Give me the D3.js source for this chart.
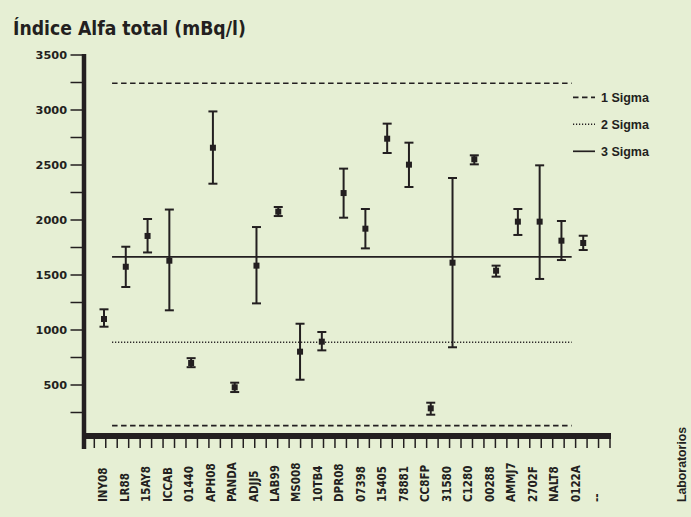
<!DOCTYPE html>
<html><head><meta charset="utf-8">
<script src="https://cdn.jsdelivr.net/npm/d3@7/dist/d3.min.js"></script>
<style>
html,body{margin:0;padding:0;background:#e6efd4;}
svg{display:block;}
</style></head>
<body><svg id="c" width="691" height="517"></svg>
<script>
const labs = ["INY08","LR88","15AY8","ICCAB","01440","APH08","PANDA","ADJJ5","LAB99","MS008","10TB4","DPR08","07398","15405","78881","CC8FP","31580","C1280","00288","AMMJ7","2702F","NALT8","0122A","--"];
const values = [1100,1575,1855,1630,700,2657,479,1585,2076,803,894,2245,1921,2739,2503,288,1612,2552,1539,1985,1985,1812,1791];
const lows   = [1030,1391,1705,1179,662,2330,436,1242,2036,548,815,2021,1742,2609,2300,230,843,2506,1485,1864,1464,1636,1727];
const highs  = [1188,1757,2009,2095,744,2987,521,1936,2118,1057,982,2467,2100,2876,2703,339,2382,2588,1585,2100,2497,1991,1857];
const yTicks = [500,1000,1500,2000,2500,3000,3500];
const yMinor = [250,750,1250,1750,2250,2750,3250];
const sigma1 = [130,3243];
const sigma2 = [888];
const sigma3 = [1664];
const lineSpan = [0.37,21.47];
const legendItems = ["1 Sigma","2 Sigma","3 Sigma"];
const title = "Índice Alfa total (mBq/l)";
const xTitle = "Laboratorios";

const ink = "#231f20";
const svg = d3.select("#c");
const y = d3.scaleLinear().domain([0,3500]).range([440,55]);
const xi = d3.scaleLinear().domain([0,labs.length-1]).range([104,605]);
const x = d3.scalePoint().domain(labs).range([104,605]);
const tickScale = d3.scaleLinear().domain([0,45]).range([94.3,610]);

// title
svg.append("text").attr("x",13).attr("y",35).text(title)
  .attr("font-family","'DejaVu Sans Condensed','DejaVu Sans',sans-serif").attr("font-weight","bold")
  .attr("font-stretch","condensed")
  .attr("font-size",19.2).attr("fill",ink);

// y axis ticks
const yg = svg.append("g");
yg.selectAll("line.maj").data(yTicks.concat(yMinor)).join("line")
  .attr("x1",70.5).attr("x2",84).attr("y1",d=>y(d)).attr("y2",d=>y(d))
  .attr("stroke",ink).attr("stroke-width",1.5);
yg.selectAll("text").data(yTicks).join("text")
  .attr("x",67).attr("y",d=>y(d)).attr("dy","0.35em").attr("text-anchor","end")
  .attr("font-family","'DejaVu Sans', sans-serif").attr("font-weight","bold")
  .attr("font-size",11.3).attr("fill",ink).text(d=>d);

// bottom ticks
svg.append("g").selectAll("line").data(d3.range(46)).join("line")
  .attr("x1",d=>tickScale(d)).attr("x2",d=>tickScale(d)).attr("y1",437).attr("y2",448)
  .attr("stroke",ink).attr("stroke-width",1.5);

// axes lines
svg.append("line").attr("x1",84).attr("x2",84).attr("y1",y(3500)-1).attr("y2",449)
  .attr("stroke",ink).attr("stroke-width",4.5);
svg.append("line").attr("x1",82).attr("x2",611).attr("y1",436).attr("y2",436)
  .attr("stroke",ink).attr("stroke-width",6);

// sigma lines
function sigLines(vals, dash){
  svg.append("g").selectAll("line").data(vals).join("line")
    .attr("x1",xi(lineSpan[0])).attr("x2",xi(lineSpan[1]))
    .attr("y1",d=>y(d)).attr("y2",d=>y(d))
    .attr("stroke",ink).attr("stroke-width",dash==="dot"?1.4:1.7)
    .attr("stroke-dasharray",dash==="dash"?"5.5,3.5":dash==="dot"?"1.2,1.8":null);
}
sigLines(sigma1,"dash");
sigLines(sigma2,"dot");
sigLines(sigma3,"solid");

// error bars
const pts = values.map((v,i)=>({lab:labs[i],v,lo:lows[i],hi:highs[i]}));
const eg = svg.append("g").attr("stroke",ink).attr("stroke-width",2);
eg.selectAll("line.v").data(pts).join("line")
  .attr("x1",d=>x(d.lab)).attr("x2",d=>x(d.lab)).attr("y1",d=>y(d.lo)).attr("y2",d=>y(d.hi));
eg.selectAll("line.t").data(pts).join("line")
  .attr("x1",d=>x(d.lab)-4.5).attr("x2",d=>x(d.lab)+4.5).attr("y1",d=>y(d.hi)).attr("y2",d=>y(d.hi));
eg.selectAll("line.b").data(pts).join("line")
  .attr("x1",d=>x(d.lab)-4.5).attr("x2",d=>x(d.lab)+4.5).attr("y1",d=>y(d.lo)).attr("y2",d=>y(d.lo));
svg.append("g").selectAll("rect").data(pts).join("rect")
  .attr("x",d=>x(d.lab)-3).attr("y",d=>y(d.v)-3).attr("width",6).attr("height",6).attr("fill",ink);

// x labels
svg.append("g").selectAll("text").data(labs).join("text")
  .attr("transform",(d,i)=>`translate(${x(d)-1-i*0.3},502) rotate(-90)`)
  .attr("dy","0.36em").attr("text-anchor","start")
  .attr("font-family","'DejaVu Sans Condensed','DejaVu Sans',sans-serif").attr("font-weight","bold")
  .attr("font-stretch","condensed")
  .attr("font-size",11.5).attr("fill",ink).text(d=>d);

svg.append("text").attr("transform","translate(686,502) rotate(-90)")
  .attr("text-anchor","start").attr("font-family","'Liberation Sans', Arial, sans-serif")
  .attr("font-weight","bold").attr("font-size",12.3).attr("fill",ink).text(xTitle);

// legend
const lg = svg.append("g");
const dashes = ["5.5,3.5","1.2,1.8",null];
legendItems.forEach((t,i)=>{
  const cy = 97.3 + i*27;
  lg.append("line").attr("x1",573).attr("x2",595).attr("y1",cy).attr("y2",cy)
    .attr("stroke",ink).attr("stroke-width",i===1?1.4:1.7).attr("stroke-dasharray",dashes[i]);
  lg.append("text").attr("x",601).attr("y",cy).attr("dy","0.35em")
    .attr("font-family","'Liberation Sans', Arial, sans-serif").attr("font-weight","bold")
    .attr("font-size",12.5).attr("fill",ink).text(t);
});
</script></body></html>
